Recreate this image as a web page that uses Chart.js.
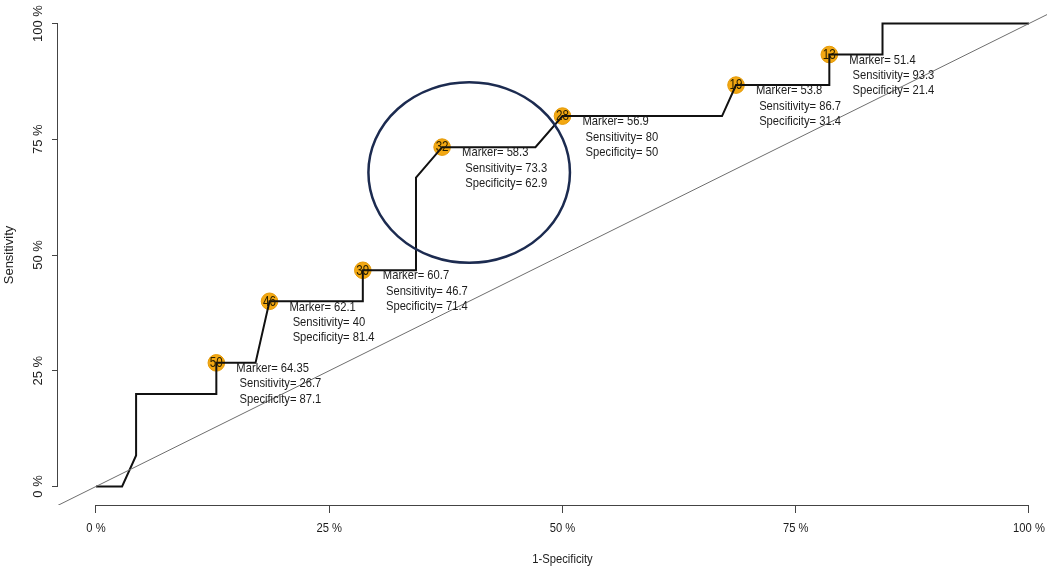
<!DOCTYPE html>
<html>
<head>
<meta charset="utf-8">
<title>ROC curve</title>
<script src="https://cdn.jsdelivr.net/npm/chart.js@4.4.1/dist/chart.umd.min.js"></script>
<style>
  html, body { margin: 0; padding: 0; background: #fff; overflow: hidden; }
  canvas { display: block; }
</style>
</head>
<body>
<canvas id="roc" width="1047" height="572"></canvas>
<script>
// ROC curve vertices: 1-specificity (%) and sensitivity (%)
const rocFpr = [0, 2.8, 4.3, 4.3, 12.9, 12.9, 17.1, 18.6, 28.6, 28.6, 34.3, 34.3, 37.1, 47.1, 50, 67.1, 68.6, 78.6, 78.6, 84.3, 84.3, 100];
const rocTpr = [0, 0, 6.7, 20, 20, 26.7, 26.7, 40, 40, 46.7, 46.7, 66.7, 73.3, 73.3, 80, 80, 86.7, 86.7, 93.3, 93.3, 100, 100];

// Labelled cut-off points
const cutIds = [50, 46, 39, 32, 28, 19, 13];
const cutMarker = [64.35, 62.1, 60.7, 58.3, 56.9, 53.8, 51.4];
const cutSensitivity = [26.7, 40, 46.7, 73.3, 80, 86.7, 93.3];
const cutSpecificity = [87.1, 81.4, 71.4, 62.9, 50, 31.4, 21.4];

// Axis ticks
const axisTicks = [0, 25, 50, 75, 100];
const tickLabels = ['0 %', '25 %', '50 %', '75 %', '100 %'];
const xTitle = '1-Specificity';
const yTitle = 'Sensitivity';

// Chance diagonal (y = x) and the circled optimum region
const chanceLine = [-10, 110];
const highlight = { x: 40, y: 67.8, rx: 10.8, ry: 19.5 };

const SANS = '"Liberation Sans", Arial, sans-serif';
const INK = '#1c1c1c';
const NARROW_X = 0.83; // horizontal squeeze of the horizontal texts

const curvePoints = rocFpr.map((v, i) => ({ x: v, y: rocTpr[i] }));
const cutPoints = cutSpecificity.map((s, i) => ({ x: +(100 - s).toFixed(1), y: cutSensitivity[i] }));
const chancePoints = chanceLine.map(v => ({ x: v, y: v }));

function fixedTicks(scale) {
  scale.ticks = axisTicks.map(v => ({ value: v }));
}
function tickText(value) {
  const i = axisTicks.indexOf(value);
  return i >= 0 ? tickLabels[i] : '';
}
function narrowText(ctx, text, x, y) {
  ctx.save();
  ctx.translate(x, y);
  ctx.scale(NARROW_X, 1);
  ctx.fillText(text, 0, 0);
  ctx.restore();
}

// Axis lines spanning 0..100 only, x labels, the highlight ellipse and the annotations
const annotate = {
  id: 'annotate',
  beforeDatasetsDraw(chart) {
    const { ctx, scales: { x, y }, chartArea } = chart;
    ctx.save();
    ctx.strokeStyle = '#444';
    ctx.lineWidth = 1;
    ctx.beginPath();
    const yb = Math.floor(chartArea.bottom) + 0.5;
    ctx.moveTo(x.getPixelForValue(0), yb);
    ctx.lineTo(x.getPixelForValue(100), yb);
    const xl = Math.floor(chartArea.left) - 0.5;
    ctx.moveTo(xl, y.getPixelForValue(0));
    ctx.lineTo(xl, y.getPixelForValue(100));
    ctx.stroke();

    // x tick labels and x title
    ctx.font = '13.5px ' + SANS;
    ctx.fillStyle = INK;
    ctx.textAlign = 'center';
    ctx.textBaseline = 'middle';
    x.ticks.forEach(t => {
      narrowText(ctx, tickText(t.value), x.getPixelForValue(t.value), chartArea.bottom + 23);
    });
    narrowText(ctx, xTitle, x.getPixelForValue(50), chartArea.bottom + 54);
    ctx.restore();
  },
  afterDatasetsDraw(chart) {
    const { ctx, scales: { x, y } } = chart;
    ctx.save();

    // circled region
    const cx = x.getPixelForValue(highlight.x);
    const cy = y.getPixelForValue(highlight.y);
    const rx = Math.abs(x.getPixelForValue(highlight.x + highlight.rx) - cx);
    const ry = Math.abs(y.getPixelForValue(highlight.y + highlight.ry) - cy);
    ctx.strokeStyle = '#1c2b50';
    ctx.lineWidth = 2.5;
    ctx.beginPath();
    ctx.ellipse(cx, cy, rx, ry, 0, 0, Math.PI * 2);
    ctx.stroke();

    ctx.textBaseline = 'middle';
    cutPoints.forEach((p, i) => {
      const px = x.getPixelForValue(p.x);
      const py = y.getPixelForValue(p.y);

      // id inside the marker
      ctx.font = '14px ' + SANS;
      ctx.fillStyle = '#2a2000';
      ctx.textAlign = 'center';
      narrowText(ctx, String(cutIds[i]), px, py + 0.5);

      // value block
      const lines = [
        'Marker= ' + cutMarker[i],
        ' Sensitivity= ' + cutSensitivity[i],
        ' Specificity= ' + cutSpecificity[i]
      ];
      ctx.font = '13.5px ' + SANS;
      ctx.fillStyle = INK;
      ctx.textAlign = 'left';
      lines.forEach((t, k) => narrowText(ctx, t, px + 20, py + 5.5 + k * 15.3));
    });
    ctx.restore();
  }
};

new Chart(document.getElementById('roc'), {
  type: 'scatter',
  data: {
    datasets: [
      {
        label: 'chance',
        data: chancePoints,
        showLine: true,
        borderColor: '#6e6e6e',
        borderWidth: 1,
        pointRadius: 0
      },
      {
        label: 'ROC',
        data: curvePoints,
        showLine: true,
        borderColor: '#111',
        borderWidth: 2,
        pointRadius: 0,
        tension: 0
      },
      {
        label: 'cut-offs',
        data: cutPoints,
        showLine: false,
        pointRadius: 8.3,
        pointBackgroundColor: '#f3a812',
        pointBorderColor: '#e49a08',
        pointBorderWidth: 1
      }
    ]
  },
  options: {
    responsive: false,
    animation: false,
    devicePixelRatio: 1,
    layout: { autoPadding: false, padding: { top: 5, right: 0, bottom: 0, left: 0 } },
    plugins: {
      legend: { display: false },
      tooltip: { enabled: false }
    },
    scales: {
      x: {
        type: 'linear',
        min: -4.07,
        max: 101.93,
        afterBuildTicks: fixedTicks,
        afterFit(scale) {
          scale.height = 67;
          scale.paddingLeft = 0;
          scale.paddingRight = 0;
        },
        border: { display: false },
        grid: { display: true, drawOnChartArea: false, drawTicks: true, tickLength: 8, color: '#444' },
        ticks: { display: false, callback: tickText }
      },
      y: {
        type: 'linear',
        min: -4,
        max: 104,
        afterBuildTicks: fixedTicks,
        afterFit(scale) {
          scale.width = 58;
          scale.paddingTop = 0;
          scale.paddingBottom = 0;
        },
        border: { display: false },
        grid: { display: true, drawOnChartArea: false, drawTicks: true, tickLength: 6, color: '#444' },
        ticks: {
          callback: tickText,
          crossAlign: 'center',
          padding: -5,
          minRotation: 90,
          maxRotation: 90,
          color: INK,
          font: { family: SANS, size: 13 }
        },
        title: {
          display: true,
          text: yTitle,
          color: INK,
          font: { family: SANS, size: 13 },
          padding: { top: 2, bottom: 0 }
        }
      }
    }
  },
  plugins: [annotate]
});
</script>
</body>
</html>
